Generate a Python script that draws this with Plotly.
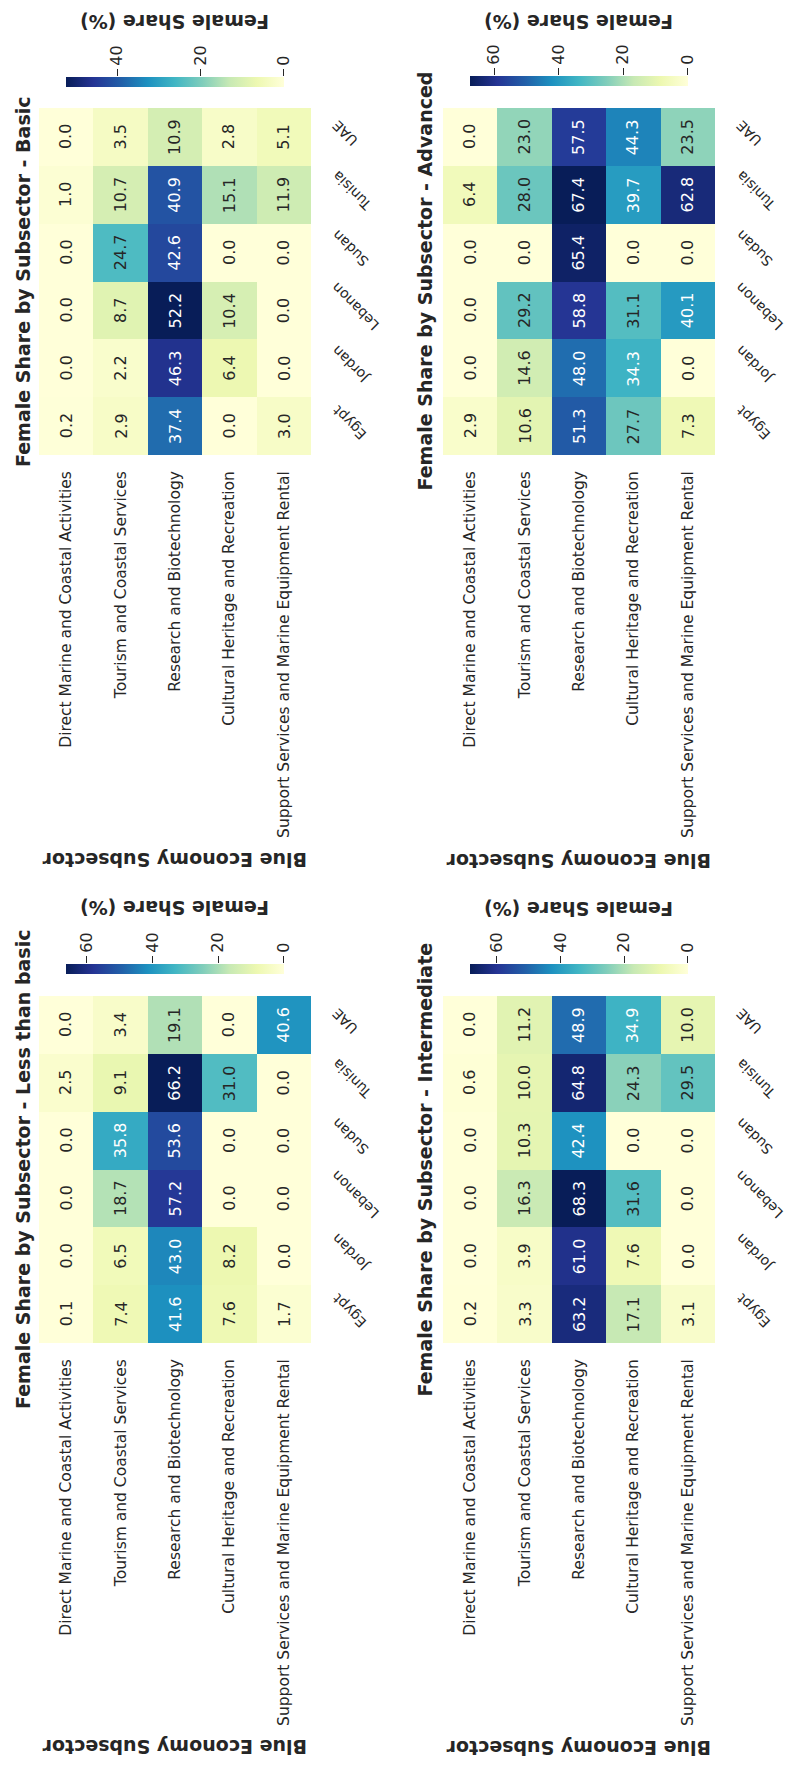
import numpy as np
import plotly.graph_objects as go

countries = ["Egypt", "Jordan", "Lebanon", "Sudan", "Tunisia", "UAE"]
subsectors = [
    "Direct Marine and Coastal Activities",
    "Tourism and Coastal Services",
    "Research and Biotechnology",
    "Cultural Heritage and Recreation",
    "Support Services and Marine Equipment Rental",
]

# rows = subsectors, columns = countries (Egypt, Jordan, Lebanon, Sudan, Tunisia, UAE)
less_than_basic = [
    [0.1, 0.0, 0.0, 0.0, 2.5, 0.0],
    [7.4, 6.5, 18.7, 35.8, 9.1, 3.4],
    [41.6, 43.0, 57.2, 53.6, 66.2, 19.1],
    [7.6, 8.2, 0.0, 0.0, 31.0, 0.0],
    [1.7, 0.0, 0.0, 0.0, 0.0, 40.6],
]
basic = [
    [0.2, 0.0, 0.0, 0.0, 1.0, 0.0],
    [2.9, 2.2, 8.7, 24.7, 10.7, 3.5],
    [37.4, 46.3, 52.2, 42.6, 40.9, 10.9],
    [0.0, 6.4, 10.4, 0.0, 15.1, 2.8],
    [3.0, 0.0, 0.0, 0.0, 11.9, 5.1],
]
intermediate = [
    [0.2, 0.0, 0.0, 0.0, 0.6, 0.0],
    [3.3, 3.9, 16.3, 10.3, 10.0, 11.2],
    [63.2, 61.0, 68.3, 42.4, 64.8, 48.9],
    [17.1, 7.6, 31.6, 0.0, 24.3, 34.9],
    [3.1, 0.0, 0.0, 0.0, 29.5, 10.0],
]
advanced = [
    [2.9, 0.0, 0.0, 0.0, 6.4, 0.0],
    [10.6, 14.6, 29.2, 0.0, 28.0, 23.0],
    [51.3, 48.0, 58.8, 65.4, 67.4, 57.5],
    [27.7, 34.3, 31.1, 0.0, 39.7, 44.3],
    [7.3, 0.0, 40.1, 0.0, 62.8, 23.5],
]
level_names = ["Basic", "Less than basic", "Advanced", "Intermediate"]
level_data = [basic, less_than_basic, advanced, intermediate]
cbar_ticks = [0, 20, 40, 60]

# YlGnBu (light -> dark)
ylgnbu = [(255, 255, 217), (237, 248, 177), (199, 233, 180), (127, 205, 187),
          (65, 182, 196), (29, 145, 192), (34, 94, 168), (37, 52, 148), (8, 29, 88)]
n = len(ylgnbu)
# colorscale used with negated values: dark at 0 (= -vmax), light at 1 (= 0)
cscale = [[i / (n - 1), "rgb(%d,%d,%d)" % c] for i, c in enumerate(ylgnbu[::-1])]

def color_at(t):
    t = min(max(t, 0.0), 1.0) * (n - 1)
    i = min(int(np.floor(t)), n - 2)
    f = t - i
    a, b = np.array(ylgnbu[i]), np.array(ylgnbu[i + 1])
    return a + (b - a) * f

def text_color(v, vmax):
    rgb = color_at(v / vmax) / 255.0
    lin = np.where(rgb <= 0.03928, rgb / 12.92, ((rgb + 0.055) / 1.055) ** 2.4)
    lum = 0.2126 * lin[0] + 0.7152 * lin[1] + 0.0722 * lin[2]
    return "#262626" if lum > 0.408 else "white"

W, H = 786, 1765
def fx(p): return p / W
def fy(p): return 1 - p / H

FONT = "DejaVu Sans"
DARK = "#262626"

# panel geometry in pixels
geo = [
    dict(x0=39, x1=311, y0=108, y1=455, cb0=77, cb1=87, cbt=21.5, ylab=860, tx=22.5),
    dict(x0=39, x1=311, y0=996, y1=1343, cb0=964, cb1=974, cbt=908, ylab=1747.5, tx=22.5),
    dict(x0=443, x1=715, y0=108, y1=455, cb0=76, cb1=86, cbt=21.5, ylab=861, tx=424),
    dict(x0=443, x1=715, y0=996, y1=1343, cb0=964, cb1=974, cbt=909, ylab=1748, tx=424),
]

fig = go.Figure()
annotations = []
layout = {}

for k, (name, data, g) in enumerate(zip(level_names, level_data, geo)):
    i = k + 1
    sfx = "" if i == 1 else str(i)
    ci = k + 5
    vals = np.array(data)            # subsectors x countries
    zc = vals.T                      # countries x subsectors
    vmax = float(vals.max())
    cx = (g["x0"] + g["x1"]) / 2
    cy = (g["y0"] + g["y1"]) / 2
    cb_len = 0.8 * (g["x1"] - g["x0"])

    fig.add_trace(go.Heatmap(
        z=-zc, x=subsectors, y=countries, customdata=zc,
        zmin=-vmax, zmax=0, colorscale=cscale,
        hovertemplate="%{y}<br>%{x}<br>%{customdata:.1f}%<extra></extra>",
        xaxis="x" + sfx, yaxis="y" + sfx,
        colorbar=dict(
            orientation="h", thickness=g["cb1"] - g["cb0"], thicknessmode="pixels",
            len=cb_len / W, lenmode="fraction",
            x=fx(cx), xanchor="center", y=fy(g["cb1"]), yanchor="bottom",
            xpad=0, ypad=0, outlinewidth=0, showticklabels=False, ticks="",
        ),
    ))
    # empty trace that creates the colorbar tick axis
    fig.add_trace(go.Scatter(x=[], y=[], xaxis="x%d" % ci, yaxis="y%d" % ci,
                             showlegend=False, hoverinfo="skip"))

    layout["xaxis" + sfx] = dict(
        domain=[fx(g["x0"]), fx(g["x1"])], anchor="y" + sfx, type="category",
        tickangle=-90, tickfont=dict(family=FONT, size=15.5, color=DARK),
        showgrid=False, zeroline=False, showline=False, ticks="",
        ticklabelstandoff=12, fixedrange=True, automargin=False,
    )
    layout["yaxis" + sfx] = dict(
        domain=[fy(g["y1"]), fy(g["y0"])], anchor="x" + sfx, type="category",
        showticklabels=False, showgrid=False, zeroline=False, showline=False,
        ticks="", fixedrange=True, automargin=False,
    )
    cb_x0 = cx - cb_len / 2
    cb_x1 = cx + cb_len / 2
    layout["xaxis%d" % ci] = dict(
        domain=[fx(cb_x0), fx(cb_x1)], anchor="y%d" % ci, side="top",
        range=[vmax, 0], tickvals=[t for t in cbar_ticks if t <= vmax],
        ticks="outside", ticklen=7, tickwidth=1, tickcolor=DARK,
        tickangle=-90, tickfont=dict(family=FONT, size=16, color=DARK),
        showgrid=False, zeroline=False, showline=False, fixedrange=True,
        automargin=False,
    )
    layout["yaxis%d" % ci] = dict(
        domain=[fy(g["cb1"]), fy(g["cb0"])], anchor="x%d" % ci, range=[0, 1],
        visible=False, fixedrange=True,
    )

    # cell values
    for r, sub in enumerate(subsectors):
        for c, ctry in enumerate(countries):
            v = vals[r][c]
            annotations.append(dict(
                x=sub, y=ctry, xref="x" + sfx, yref="y" + sfx,
                text="%.1f" % v, showarrow=False, textangle=-90,
                font=dict(family=FONT, size=16, color=text_color(v, vmax)),
            ))
    # country labels
    for ctry in countries:
        annotations.append(dict(
            x=1, y=ctry, xref="x%s domain" % sfx, yref="y" + sfx,
            text=ctry, showarrow=False, textangle=-135,
            xanchor="left", yanchor="middle", xshift=15, yshift=4,
            font=dict(family=FONT, size=14, color=DARK),
        ))
    # panel title
    annotations.append(dict(
        x=fx(g["tx"]), y=fy(cy), xref="paper", yref="paper",
        text="<b>Female Share by Subsector - %s</b>" % name, showarrow=False,
        textangle=-90, xanchor="center", yanchor="middle",
        font=dict(family=FONT, size=19, color=DARK),
    ))
    # colorbar title
    annotations.append(dict(
        x=fx(cx), y=fy(g["cbt"]), xref="paper", yref="paper",
        text="<b>Female Share (%)</b>", showarrow=False, textangle=180,
        xanchor="center", yanchor="middle",
        font=dict(family=FONT, size=19, color=DARK),
    ))
    # y axis label
    annotations.append(dict(
        x=fx(cx), y=fy(g["ylab"]), xref="paper", yref="paper",
        text="<b>Blue Economy Subsector</b>", showarrow=False, textangle=180,
        xanchor="center", yanchor="middle",
        font=dict(family=FONT, size=19, color=DARK),
    ))

fig.update_layout(
    width=W, height=H, margin=dict(l=0, r=0, t=0, b=0, autoexpand=False),
    paper_bgcolor="white", plot_bgcolor="white",
    showlegend=False, annotations=annotations,
    font=dict(family=FONT, color=DARK),
    **layout,
)

fig.write_html("out.html")
